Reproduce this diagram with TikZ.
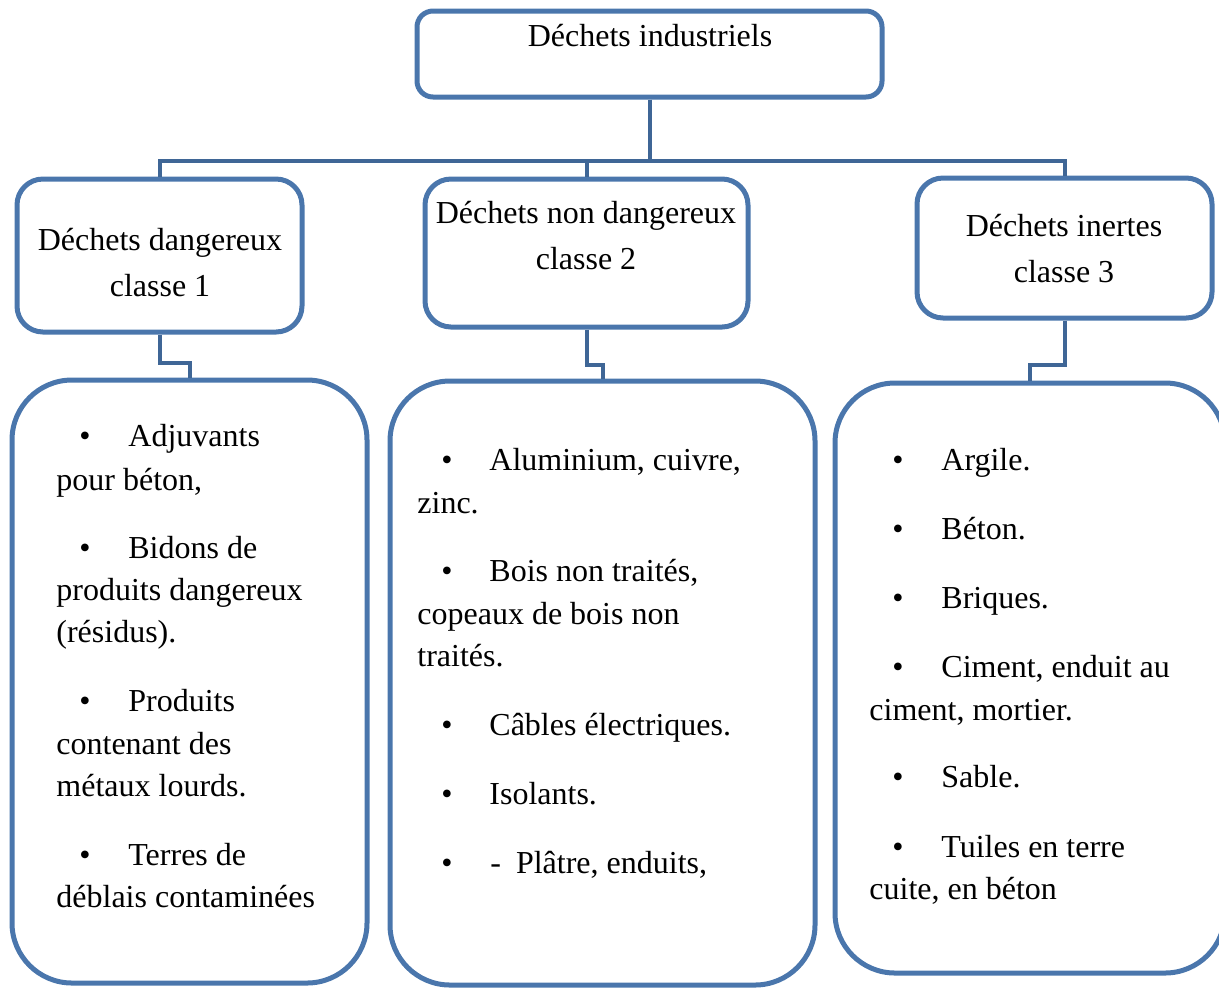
\documentclass[tikz,border=0pt]{standalone}
\usepackage{fontspec}
\setmainfont{Liberation Serif}
\definecolor{boxblue}{RGB}{74,118,172}
\definecolor{linkblue}{RGB}{63,102,150}
% bullet entry: name, bullet x, text x, baseline y, text
\newcommand\bulletentry[5]{%
  \node[lbl, anchor=base] (#1b) at (#2,#4) {•};
  \node[lbl, anchor=base west] (#1) at (#3,#4) {#5};}
% continuation line of an entry: name, x, baseline y, text
\newcommand\contline[4]{%
  \node[lbl, anchor=base west] (#1) at (#2,#3) {#4};}
\begin{document}
\begin{tikzpicture}[x=0.5pt, y=-0.5pt,
  lbl/.style={inner sep=0pt, font=\fontsize{16pt}{20pt}\selectfont},
  box/.style={draw=boxblue, line width=2.5pt, inner sep=0pt},
  link/.style={draw=linkblue, line width=2pt}]
\useasboundingbox (0,0) rectangle (1219,987);

% frames
\node[box, rounded corners=8pt, minimum width=232.5pt, minimum height=43pt] (top) at (649.5,54) {};
\node[box, rounded corners=13pt, minimum width=142.5pt, minimum height=76.5pt] (c1) at (159.5,255.5) {};
\node[box, rounded corners=13pt, minimum width=161.5pt, minimum height=74pt] (c2) at (586.5,253) {};
\node[box, rounded corners=13pt, minimum width=147.5pt, minimum height=70pt] (c3) at (1064.5,248) {};
\node[box, rounded corners=30pt, minimum width=177.5pt, minimum height=301.5pt] (l1) at (189.5,681.5) {};
\node[box, rounded corners=30pt, minimum width=212.5pt, minimum height=302pt] (l2) at (602.5,683) {};
\node[box, rounded corners=30pt, minimum width=195pt, minimum height=295pt] (l3) at (1030,678) {};

% connectors
\draw[link] (top.south) -- (top.south |- 0,161) -| (c1.north);
\draw[link] (top.south) -- (top.south |- 0,161) -| (c3.north);
\draw[link] (c2.north |- 0,161) -- (c2.north);
\draw[link] (c1.south) -- (c1.south |- 0,363) -| (l1.north);
\draw[link] (c2.south) -- (c2.south |- 0,365) -| (l2.north);
\draw[link] (c3.south) -- (c3.south |- 0,365) -| (l3.north);

% headings
\node[lbl, anchor=base] (ttop) at (650,46) {Déchets industriels};
\node[lbl, anchor=base] (t1a) at (160,250) {Déchets dangereux};
\node[lbl, anchor=base] (t1b) at (160,296) {classe 1};
\node[lbl, anchor=base] (t2a) at (586,223) {Déchets non dangereux};
\node[lbl, anchor=base] (t2b) at (586,269) {classe 2};
\node[lbl, anchor=base] (t3a) at (1064,236) {Déchets inertes};
\node[lbl, anchor=base] (t3b) at (1064,282) {classe 3};

% class 1 items
\bulletentry{a1}{85}{128}{446}{Adjuvants}
\contline{a1x}{56}{490}{pour béton,}
\bulletentry{a2}{85}{128}{558}{Bidons de}
\contline{a2x}{56}{600}{produits dangereux}
\contline{a2y}{56}{642}{(résidus).}
\bulletentry{a3}{85}{128}{711}{Produits}
\contline{a3x}{56}{754}{contenant des}
\contline{a3y}{56}{796}{métaux lourds.}
\bulletentry{a4}{85}{128}{865}{Terres de}
\contline{a4x}{56}{907}{déblais contaminées}

% class 2 items
\bulletentry{b1}{447}{489}{470}{Aluminium, cuivre,}
\contline{b1x}{417}{513}{zinc.}
\bulletentry{b2}{447}{489}{581}{Bois non traités,}
\contline{b2x}{417}{624}{copeaux de bois non}
\contline{b2y}{417}{666}{traités.}
\bulletentry{b3}{447}{489}{735}{Câbles électriques.}
\bulletentry{b4}{447}{489}{804}{Isolants.}
\bulletentry{b5}{447}{490}{873}{-\hspace{7.5pt}Plâtre, enduits,}

% class 3 items
\bulletentry{d1}{898}{941}{470}{Argile.}
\bulletentry{d2}{898}{941}{539}{Béton.}
\bulletentry{d3}{898}{941}{608}{Briques.}
\bulletentry{d4}{898}{941}{677}{Ciment, enduit au}
\contline{d4x}{869}{720}{ciment, mortier.}
\bulletentry{d5}{898}{941}{787}{Sable.}
\bulletentry{d6}{898}{941}{857}{Tuiles en terre}
\contline{d6x}{869}{899}{cuite, en béton}
\end{tikzpicture}
\end{document}
